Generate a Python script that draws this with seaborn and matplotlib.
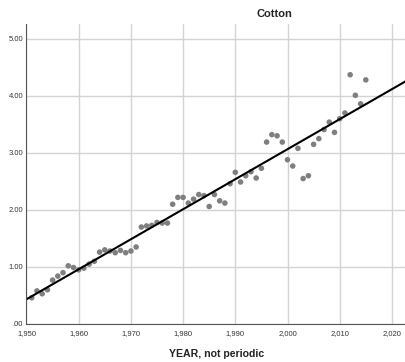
import matplotlib
matplotlib.use("Agg")
import matplotlib.pyplot as plt
import seaborn as sns
import pandas as pd
import numpy as np

years = list(range(1951, 2016))
values = [0.46, 0.58, 0.53, 0.60, 0.77, 0.84, 0.90, 1.02, 0.99, 0.95,
          0.98, 1.05, 1.10, 1.26, 1.30, 1.28, 1.25, 1.29, 1.25, 1.28,
          1.35, 1.70, 1.72, 1.73, 1.78, 1.77, 1.77, 2.10, 2.22, 2.22,
          2.12, 2.19, 2.27, 2.25, 2.06, 2.27, 2.16, 2.12, 2.46, 2.66,
          2.49, 2.60, 2.67, 2.56, 2.73, 3.19, 3.32, 3.30, 3.19, 2.88,
          2.77, 3.08, 2.55, 2.60, 3.15, 3.25, 3.41, 3.54, 3.36, 3.60,
          3.70, 4.37, 4.01, 3.86, 4.28]
xticks = [1950, 1960, 1970, 1980, 1990, 2000, 2010, 2020]
xtick_labels = ["1,950", "1,960", "1,970", "1,980", "1,990", "2,000", "2,010", "2,020"]
yticks = [0, 1, 2, 3, 4, 5]
ytick_labels = [".00", "1.00", "2.00", "3.00", "4.00", "5.00"]
title = "Cotton"
xlabel = "YEAR, not periodic"

df = pd.DataFrame({"year": years, "value": values})

sns.set_style("white")
plt.rcParams['font.family'] = ['Liberation Sans', 'DejaVu Sans']

fig = plt.figure(figsize=(4.06, 3.62), dpi=100)
ax = fig.add_axes([26.5/406, 1 - 324/362, 1 - 26.5/406, (324 - 24)/362])
ax.set_xlim(1950, 2022.7)
ax.set_ylim(0, 5.26)

ax.set_xticks(xticks)
ax.set_yticks(yticks)
ax.grid(True, color="#d4d4d4", linewidth=1.0)
ax.set_axisbelow(True)

sns.regplot(data=df, x="year", y="value", ax=ax, ci=None, truncate=False,
            scatter_kws=dict(s=16, color="#7f7f7f", edgecolor="none", alpha=1),
            line_kws=dict(color="black", linewidth=1.5))

ax.set_xlim(1950, 2022.7)
ax.set_ylim(0, 5.26)
ax.set_xticks(xticks)
ax.set_xticklabels(xtick_labels)
ax.set_yticks(yticks)
ax.set_yticklabels(ytick_labels)
ax.tick_params(axis="both", labelsize=5.5, colors="#333333", length=0)
ax.tick_params(axis="x", pad=4)
ax.tick_params(axis="y", pad=2.5)
ax.set_xlabel("")
ax.set_ylabel("")

for s in ["top", "right"]:
    ax.spines[s].set_visible(False)
for s in ["left", "bottom"]:
    ax.spines[s].set_color("#555555")
    ax.spines[s].set_linewidth(0.8)

fig.text(274/406, 1 - 14/362, title, ha="center", va="center",
         fontsize=8, fontweight="bold", color="#222222")
fig.text(217/406, 1 - 354/362, xlabel, ha="center", va="center",
         fontsize=7.6, fontweight="bold", color="#222222")

fig.savefig("out.png", dpi=100)
